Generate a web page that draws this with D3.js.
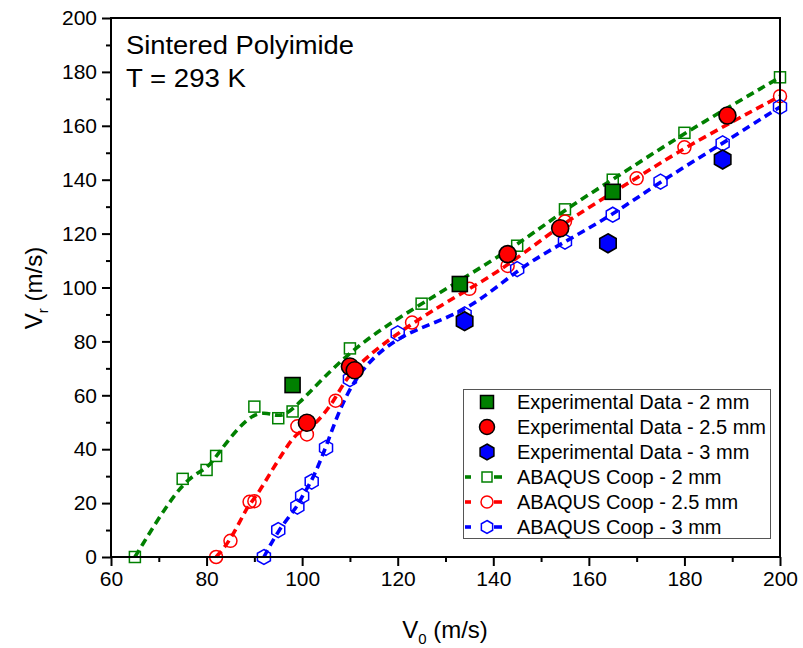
<!DOCTYPE html>
<html><head><meta charset="utf-8">
<script src="https://cdn.jsdelivr.net/npm/d3@7"></script>
<style>body{margin:0;background:#fff;} svg{display:block;font-family:"Liberation Sans",Arial,sans-serif;}</style>
</head><body><svg id="c" width="803" height="648"></svg>
<script>
// Experimental data
const expV0_2 = [98, 133, 165];
const expVr_2 = [63.8, 101.3, 135.5];
const expV0_25 = [101, 110, 111, 143, 154, 189];
const expVr_25 = [49.8, 70.7, 69.3, 112.4, 122, 163.8];
const expV0_3 = [134, 164, 188];
const expVr_3 = [87.5, 116.4, 147.5];
// ABAQUS Coop simulations
const simV0_2 = [65, 75, 80, 82, 90, 95, 98, 110, 125, 145, 155, 165, 180, 200];
const simVr_2 = [0, 29, 32.3, 37.5, 55.8, 51.5, 54, 77.4, 94, 115.5, 129, 140, 157.4, 178];
const simV0_25 = [82, 85, 89, 90, 99, 101, 107, 110, 123, 135, 143, 155, 170, 180, 200];
const simVr_25 = [0, 6, 20.5, 20.7, 48.5, 45.5, 58, 70, 87, 99.5, 108, 124.5, 140.5, 152, 171];
const simV0_3 = [92, 95, 99, 100, 102, 105, 110, 120, 134, 145, 155, 165, 175, 188, 200];
const simVr_3 = [0, 10, 18.7, 22.6, 28, 40.5, 66, 83, 90, 106.8, 117, 127, 139.3, 153.5, 167];
const xTicks = [60, 80, 100, 120, 140, 160, 180, 200];
const yTicks = [0, 20, 40, 60, 80, 100, 120, 140, 160, 180, 200];
const legendLabels = ["Experimental Data - 2 mm","Experimental Data - 2.5 mm","Experimental Data - 3 mm","ABAQUS Coop - 2 mm","ABAQUS Coop - 2.5 mm","ABAQUS Coop - 3 mm"];

const GREEN = "#008000", RED = "#ff0000", BLUE = "#0000ff";
const svg = d3.select("#c");
const x = d3.scaleLinear().domain([60, 200]).range([111, 780]);
const y = d3.scaleLinear().domain([0, 200]).range([557, 18]);

function hexPath(r){
  const pts = d3.range(6).map(i => { const a = Math.PI/3*i - Math.PI/2; return [r*Math.cos(a), r*Math.sin(a)]; });
  return "M" + pts.map(p => p.join(",")).join("L") + "Z";
}
function drawMarker(g, type, cx, cy, size, fill, stroke, sw){
  let el;
  if (type === "square") el = g.append("rect").attr("x", cx-size/2).attr("y", cy-size/2).attr("width", size).attr("height", size);
  else if (type === "circle") el = g.append("circle").attr("cx", cx).attr("cy", cy).attr("r", size/2);
  else el = g.append("path").attr("d", hexPath(size/2)).attr("transform", `translate(${cx},${cy})`);
  el.attr("fill", fill).attr("stroke", stroke).attr("stroke-width", sw);
  return el;
}

const plot = svg.append("g");
// simulation lines
const sims = [
  {v0: simV0_2, vr: simVr_2, c: GREEN, t: "square", s: 11},
  {v0: simV0_25, vr: simVr_25, c: RED, t: "circle", s: 13},
  {v0: simV0_3, vr: simVr_3, c: BLUE, t: "hex", s: 15}
];
const line = d3.line().x(d => x(d[0])).y(d => y(d[1])).curve(d3.curveBasis);
sims.forEach(s => {
  const pts = s.v0.map((v, i) => [v, s.vr[i]]);
  plot.append("path").attr("d", line(pts)).attr("fill", "none").attr("stroke", s.c)
    .attr("stroke-width", 3.6).attr("stroke-dasharray", "8,5");
});
sims.forEach(s => {
  s.v0.forEach((v, i) => drawMarker(plot, s.t, x(v), y(s.vr[i]), s.s, "none", s.c, 1.5));
});
// experimental
const exps = [
  {v0: expV0_2, vr: expVr_2, c: GREEN, t: "square", s: 15},
  {v0: expV0_25, vr: expVr_25, c: RED, t: "circle", s: 17},
  {v0: expV0_3, vr: expVr_3, c: BLUE, t: "hex", s: 19}
];
exps.forEach(s => {
  s.v0.forEach((v, i) => drawMarker(plot, s.t, x(v), y(s.vr[i]), s.s, s.c, "#000", 1.6));
});

// axes
const xAxis = svg.append("g").attr("transform", "translate(0,557)")
  .call(d3.axisBottom(x).tickValues(xTicks).tickSize(9).tickPadding(5).tickFormat(d3.format("d")));
const xMinor = svg.append("g").attr("transform", "translate(0,557)")
  .call(d3.axisBottom(x).tickValues(d3.range(70, 200, 20)).tickSize(5).tickFormat(""));
const yAxis = svg.append("g").attr("transform", "translate(111,0)")
  .call(d3.axisLeft(y).tickValues(yTicks).tickSize(9).tickPadding(5).tickFormat(d3.format("d")));
const yMinor = svg.append("g").attr("transform", "translate(111,0)")
  .call(d3.axisLeft(y).tickValues(d3.range(10, 200, 20)).tickSize(5).tickFormat(""));
[xAxis, xMinor, yAxis, yMinor].forEach(a => {
  a.select(".domain").remove();
  a.selectAll("line").attr("stroke", "#000").attr("stroke-width", 2);
  a.selectAll("text").attr("font-size", 21).attr("fill", "#000").attr("font-family", "Liberation Sans, Arial, sans-serif");
});
// frame
svg.append("rect").attr("x", 111).attr("y", 18).attr("width", 669).attr("height", 539)
  .attr("fill", "none").attr("stroke", "#000").attr("stroke-width", 2);

// axis titles
const xt = svg.append("text").attr("x", 445).attr("y", 638).attr("text-anchor", "middle").attr("font-size", 24);
xt.append("tspan").text("V");
xt.append("tspan").attr("font-size", 15).attr("dy", 6).text("0");
xt.append("tspan").attr("dy", -6).text(" (m/s)");
const yt = svg.append("text").attr("transform", "translate(42,288) rotate(-90)").attr("text-anchor", "middle").attr("font-size", 24);
yt.append("tspan").text("V");
yt.append("tspan").attr("font-size", 15).attr("dy", 6).text("r");
yt.append("tspan").attr("dy", -6).text(" (m/s)");

// annotation
svg.append("text").attr("x", 126).attr("y", 54).attr("font-size", 25).attr("textLength", 228).attr("lengthAdjust", "spacingAndGlyphs").text("Sintered Polyimide");
svg.append("text").attr("x", 126).attr("y", 87).attr("font-size", 25).attr("textLength", 120).attr("lengthAdjust", "spacingAndGlyphs").text("T = 293 K");

// legend
const lg = svg.append("g");
lg.append("rect").attr("x", 463.5).attr("y", 389.5).attr("width", 307).attr("height", 149)
  .attr("fill", "#fff").attr("stroke", "#555").attr("stroke-width", 1);
const legendItems = [
  {kind: "exp", t: "square", c: GREEN, s: 13},
  {kind: "exp", t: "circle", c: RED, s: 15},
  {kind: "exp", t: "hex", c: BLUE, s: 16},
  {kind: "sim", t: "square", c: GREEN, s: 10},
  {kind: "sim", t: "circle", c: RED, s: 12},
  {kind: "sim", t: "hex", c: BLUE, s: 13}
];
legendItems.forEach((it, i) => {
  const cy = 402 + i * 25;
  if (it.kind === "exp") {
    drawMarker(lg, it.t, 487, cy, it.s, it.c, "#000", 1.5);
  } else {
    lg.append("line").attr("x1", 465).attr("x2", 471).attr("y1", cy).attr("y2", cy).attr("stroke", it.c).attr("stroke-width", 3.6);
    lg.append("line").attr("x1", 494).attr("x2", 502).attr("y1", cy).attr("y2", cy).attr("stroke", it.c).attr("stroke-width", 3.6);
    drawMarker(lg, it.t, 487, cy, it.s, "#fff", it.c, 1.5);
  }
  lg.append("text").attr("x", 517).attr("y", cy + 7).attr("font-size", 20).text(legendLabels[i]);
});
</script></body></html>
